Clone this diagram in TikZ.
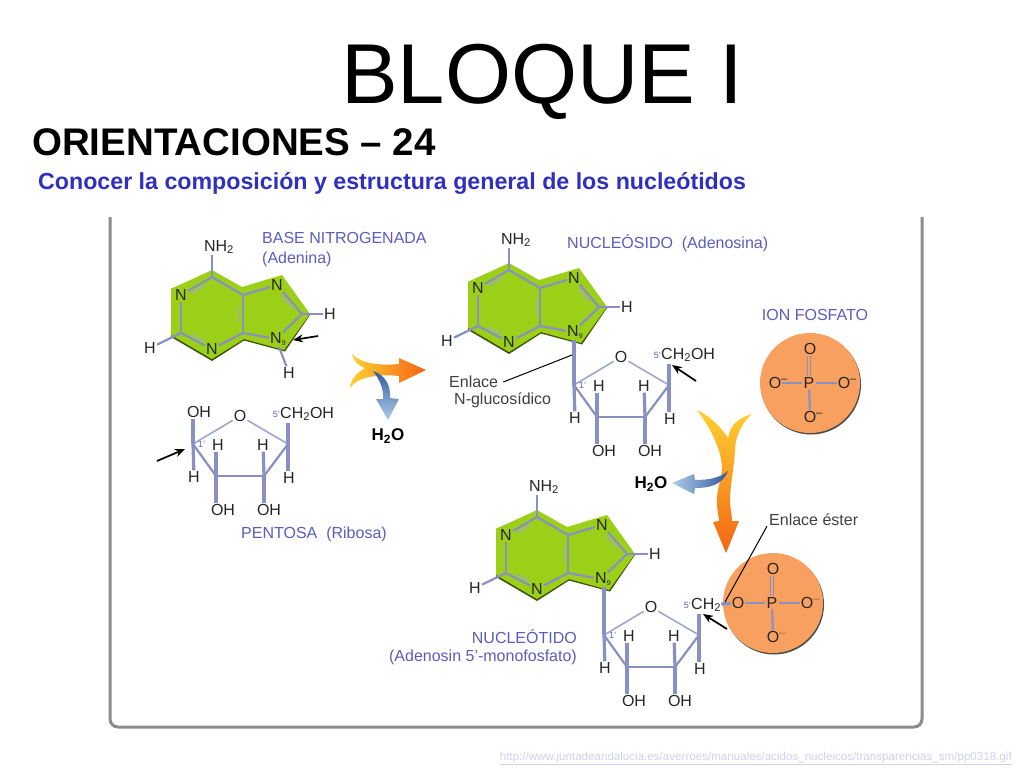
\documentclass[tikz,border=0pt]{standalone}
\usepackage{fontspec}
\setmainfont{Liberation Sans}
\usepackage{tikz}
\usetikzlibrary{positioning, calc, arrows.meta}

\definecolor{leaf}{RGB}{156,208,24}
\definecolor{bondblue}{RGB}{136,144,196}
\definecolor{labelblue}{RGB}{92,92,190}
\definecolor{headblue}{RGB}{48,48,190}
\definecolor{peach}{RGB}{248,160,96}
\definecolor{urlblue}{RGB}{206,210,238}
\definecolor{flameyellow}{RGB}{255,208,50}
\definecolor{flameorange}{RGB}{244,100,20}
\definecolor{dropdark}{RGB}{50,90,160}
\definecolor{droplight}{RGB}{175,205,232}

\tikzset{
    atom/.style = {inner sep=1pt, text=black!85, font=\fontsize{16}{16}\selectfont},
    tag/.style = {inner sep=0pt, text=labelblue, font=\fontsize{16}{18}\selectfont},
    note/.style = {inner sep=0pt, text=black!75, font=\fontsize{16}{18}\selectfont},
    water/.style = {inner sep=0pt, font=\fontsize{17}{17}\selectfont\bfseries},
    tiny tag/.style = {inner sep=0pt, text=labelblue, font=\fontsize{9}{9}\selectfont},
    bond/.style = {draw=bondblue, line width=2.2pt},
    inner bond/.style = {draw=bondblue!80, line width=1.2pt},
    thin bond/.style = {draw=bondblue!80, line width=1.6pt},
    thick bond/.style = {draw=bondblue, line width=3.2pt},
    double bond/.style = {draw=bondblue, double=peach, line width=1.2pt, double distance=2pt},
    pointer/.style = {draw=black, line width=1.7pt, -{Stealth[length=10pt, width=8pt]}},
    leader/.style = {draw=black, line width=1pt}
}

% base: prefix, x, y
\newcommand{\adenine}[3]{
    \begin{scope}[shift={(#2,#3)}]
    \fill[black!60!leaf] (0,-6) -- (30,11) -- (70,-1) -- (98,38) -- (73,74.5) -- (32,63.5) -- (0,84) -- (-41,60) -- (-41,12) -- cycle;
    \fill[leaf] (0,-7) -- (30,10) -- (70,-2) -- (98,37) -- (72,73) -- (32,62) -- (0,82) -- (-41,58) -- (-41,12) -- cycle;
    \coordinate (#1c6) at (0,0);
    \coordinate (#1c2) at (-31,56);
    \coordinate (#1c4) at (31,56);
    \coordinate (#1c5) at (31,18);
    \coordinate (#1c8) at (90,37);
    \node[atom] (#1nh) at (7,-30) {NH\textsubscript{2}};
    \node[atom] (#1n1) at (-31,18) {N};
    \node[atom] (#1n3) at (0,72) {N};
    \node[atom] (#1n7) at (65,8) {N};
    \node[atom] (#1n9) at (64,62) {N\rlap{\textsubscript{\fontsize{7}{7}\selectfont 9}}};
    \node[atom] (#1h2) at (-62,71) {H};
    \node[atom] (#1h8) at (118,37) {H};
    \draw[bond] (#1c6) -- (#1c6 |- #1nh.south);
    \foreach \a/\b in {c6/n1, n1/c2, c2/n3, n3/c4, c4/c5, c5/c6, c5/n7, n7/c8, c8/n9, n9/c4, c2/h2, c8/h8}
        \draw[bond] (#1\a) -- (#1\b);
    \foreach \a/\b in {c6/n1, c2/n3, c4/c5, c8/n7}
        \draw[inner bond] ($(#1\a)!.28!(#1\b)!3.5pt!90:(#1\b)$) -- ($(#1\b)!.28!(#1\a)!3.5pt!-90:(#1\a)$);
    \end{scope}
}

% sugar ring: prefix, x, y, group on carbon 5
\newcommand{\ribose}[4]{
    \begin{scope}[shift={(#2,#3)}]
    \coordinate (#1c1) at (0,0);
    \coordinate (#1c2) at (23,32);
    \coordinate (#1c3) at (71,32);
    \coordinate (#1c4) at (95,0);
    \coordinate (#1top) at (95,-21);
    \node[atom] (#1o) at (47,-28) {O};
    \node[atom] (#1h1) at (1,33) {H};
    \node[atom] (#1h2) at (25,1) {H};
    \node[atom] (#1h3) at (70,1) {H};
    \node[atom] (#1h4) at (96,34) {H};
    \node[atom] (#1oh2) at (30,66) {OH};
    \node[atom] (#1oh3) at (76,66) {OH};
    \node[atom, anchor=west, inner sep=0pt] (#1ch) at (87,-30) {#4};
    \node[tiny tag, left=0pt of #1ch] (#1five) {5'};
    \node[tiny tag, right=5pt of #1c1] (#1one) {1'};
    \draw[thin bond] (#1c1) -- (#1o);
    \draw[thin bond] (#1o) -- (#1c4);
    \foreach \a/\b in {c1/c2, c2/c3, c3/c4}
        \draw[bond] (#1\a) -- (#1\b);
    \draw[thick bond] (#1c1) -- (#1h1);
    \draw[thick bond] (#1c2) -- (#1c2 |- #1h2.south);
    \draw[thick bond] (#1c3) -- (#1h3);
    \draw[thick bond] (#1c4) -- (#1c4 |- #1h4.north);
    \draw[thick bond] (#1c4) -- (#1top);
    \draw[thick bond] (#1c2) -- (#1c2 |- #1oh2.north);
    \draw[thick bond] (#1c3) -- (#1c3 |- #1oh3.north);
    \end{scope}
}

% phosphate: prefix, x, y, charge on the left, charge elsewhere
\newcommand{\phosphate}[5]{
    \begin{scope}[shift={(#2,#3)}]
    \fill[black!70] (1,1.5) circle (50);
    \fill[peach] (0,0) circle (50);
    \node[atom] (#1p) at (-1,0) {P};
    \node[atom] (#1ot) at (0,-34) {O};
    \node[atom] (#1ol) at (-35,0) {O\rlap{#4}};
    \node[atom] (#1or) at (34,0) {O\rlap{#5}};
    \node[atom] (#1ob) at (0,34) {O\rlap{#5}};
    \draw[double bond] (#1p) -- (#1p |- #1ot.south);
    \foreach \a in {ol, or, ob}
        \draw[bond] (#1p) -- (#1\a);
    \end{scope}
}
\newcommand{\minus}[1]{\textcolor{#1}{\textsuperscript{--}}}

\begin{document}
\begin{tikzpicture}[x=1pt, y=-1pt]
    \useasboundingbox (0,0) rectangle (1024,768);
    \fill[white] (0,0) rectangle (1024,768);

    \node[inner sep=0pt, anchor=base, font=\fontsize{85}{86}\selectfont] (title) at (542,103) {BLOQUE I};
    \node[inner sep=0pt, anchor=base west, font=\fontsize{38.5}{38}\selectfont\bfseries] (sub) at (32,155) {ORIENTACIONES -- 24};
    \node[inner sep=0pt, anchor=base west, font=\fontsize{23.2}{24}\selectfont\bfseries, text=headblue] (aim) at (38,189) {Conocer la composición y estructura general de los nucleótidos};
    \node[inner sep=0pt, anchor=east, font=\fontsize{11.6}{12}\selectfont, text=urlblue] (url) at (1012,758) {\underline{http://www.juntadeandalucia.es/averroes/manuales/acidos\_nucleicos/transparencias\_sm/pp0318.gif}};

    % frame
    \draw[black!45, line width=3pt, rounded corners=8pt] (110,217) -- (110,727) -- (922,727) -- (922,217);

    % first column
    \adenine{aa}{212}{277}{}
    \node[atom] (aah9) at (289,373) {H};
    \draw[bond] (aan9) -- (aah9);
    \ribose{ra}{193}{444}{CH\textsubscript{2}OH}
    \node[atom] (raoh) at (199,412) {OH};
    \draw[thick bond] (rac1) -- (rac1 |- raoh.south);
    \node[tag, anchor=west] (basename) at (262,238) {BASE NITROGENADA};
    \node[tag, below=8pt of basename.south west, anchor=north west] (basesub) {(Adenina)};
    \node[tag] (pentname) at (314,534) {PENTOSA\ \ (Ribosa)};

    % second column
    \adenine{ab}{509}{270}{}
    \ribose{rb}{574}{385}{CH\textsubscript{2}OH}
    \draw[thick bond] (rbc1) -- (rbc1 |- abn9.south);
    \node[tag, anchor=west] (nucname) at (567,243) {NUCLEÓSIDO\ \ (Adenosina)};
    \node[note, anchor=west] (bondname) at (449,382) {Enlace};
    \node[note, anchor=west] (bondsub) at (454,400) {N-glucosídico};
    \coordinate (bondend) at (572,355);
    \draw[leader] (bondname.east) ++(5,0) coordinate (bondstart) -- (bondend);

    % phosphate
    \phosphate{pa}{810}{383}{\minus{black!85}}{\minus{black!85}}
    \node[tag] (ionname) at (815,315) {ION FOSFATO};

    % third column
    \adenine{ac}{537}{517}{}
    \ribose{rc}{604}{635}{CH\textsubscript{2}}
    \draw[thick bond] (rcc1) -- (rcc1 |- acn9.south);
    \phosphate{pb}{773}{603}{}{\minus{black!35!peach}}
    \draw[thick bond] (rcch) -- (pbol);
    \node[tag, anchor=east] (ntname) at (577,637) {NUCLEÓTIDO};
    \node[tag, anchor=east] (ntsub) at (577,657) {(Adenosin 5'-monofosfato)};
    \node[note, anchor=west] (estername) at (769,520) {Enlace éster};
    \coordinate (esterend) at (725,602);
    \draw[leader] (estername.south west) ++(-2,0) coordinate (esterstart) -- (esterend);

    % small arrows
    \foreach \n/\x/\y/\u/\v in {pa/318/336/293/340, pb/157/461/185/449, pc/696/381/672/365, pd/727/629/703/614} {
        \coordinate (\n from) at (\x,\y);
        \coordinate (\n to) at (\u,\v);
        \draw[pointer] (\n from) -- (\n to);
    }

    % big arrows
    \shade[left color=flameyellow, right color=flameorange] (352,354) .. controls (360,363) and (378,366) .. (399,364) -- (399,358) -- (426,370) -- (399,383) -- (399,376) .. controls (380,374) and (358,376) .. (350,388) .. controls (351,378) and (358,372) .. (365,368) .. controls (359,366) and (354,362) .. cycle;
    \shade[top color=dropdark, bottom color=droplight] (373,371) .. controls (385,375) and (391,385) .. (390,398) -- (399,399) -- (388,420) -- (376,399) -- (383,399) .. controls (384,390) and (380,380) .. cycle;
    \node[water] (waterone) at (388,436) {H\textsubscript{2}O};

    \shade[top color=flameyellow, bottom color=flameorange] (697,410) .. controls (710,416) and (722,428) .. (728,438) .. controls (730,425) and (738,418) .. (752,414) .. controls (740,424) and (735,440) .. (735,450) .. controls (734,470) and (730,485) .. (730,500) .. controls (730,508) and (732,514) .. (732,521) -- (739,521) -- (726,553) -- (713,522) -- (719,521) .. controls (718,510) and (716,505) .. (717,497) .. controls (718,485) and (722,478) .. (722,467) .. controls (721,450) and (712,430) .. cycle;
    \shade[left color=droplight, right color=dropdark] (728,471) .. controls (720,478) and (708,480) .. (695,480) -- (694,474) -- (672,483) -- (694,494) -- (695,488) .. controls (708,488) and (722,486) .. cycle;
    \node[water] (watertwo) at (651,484) {H\textsubscript{2}O};
\end{tikzpicture}
\end{document}
